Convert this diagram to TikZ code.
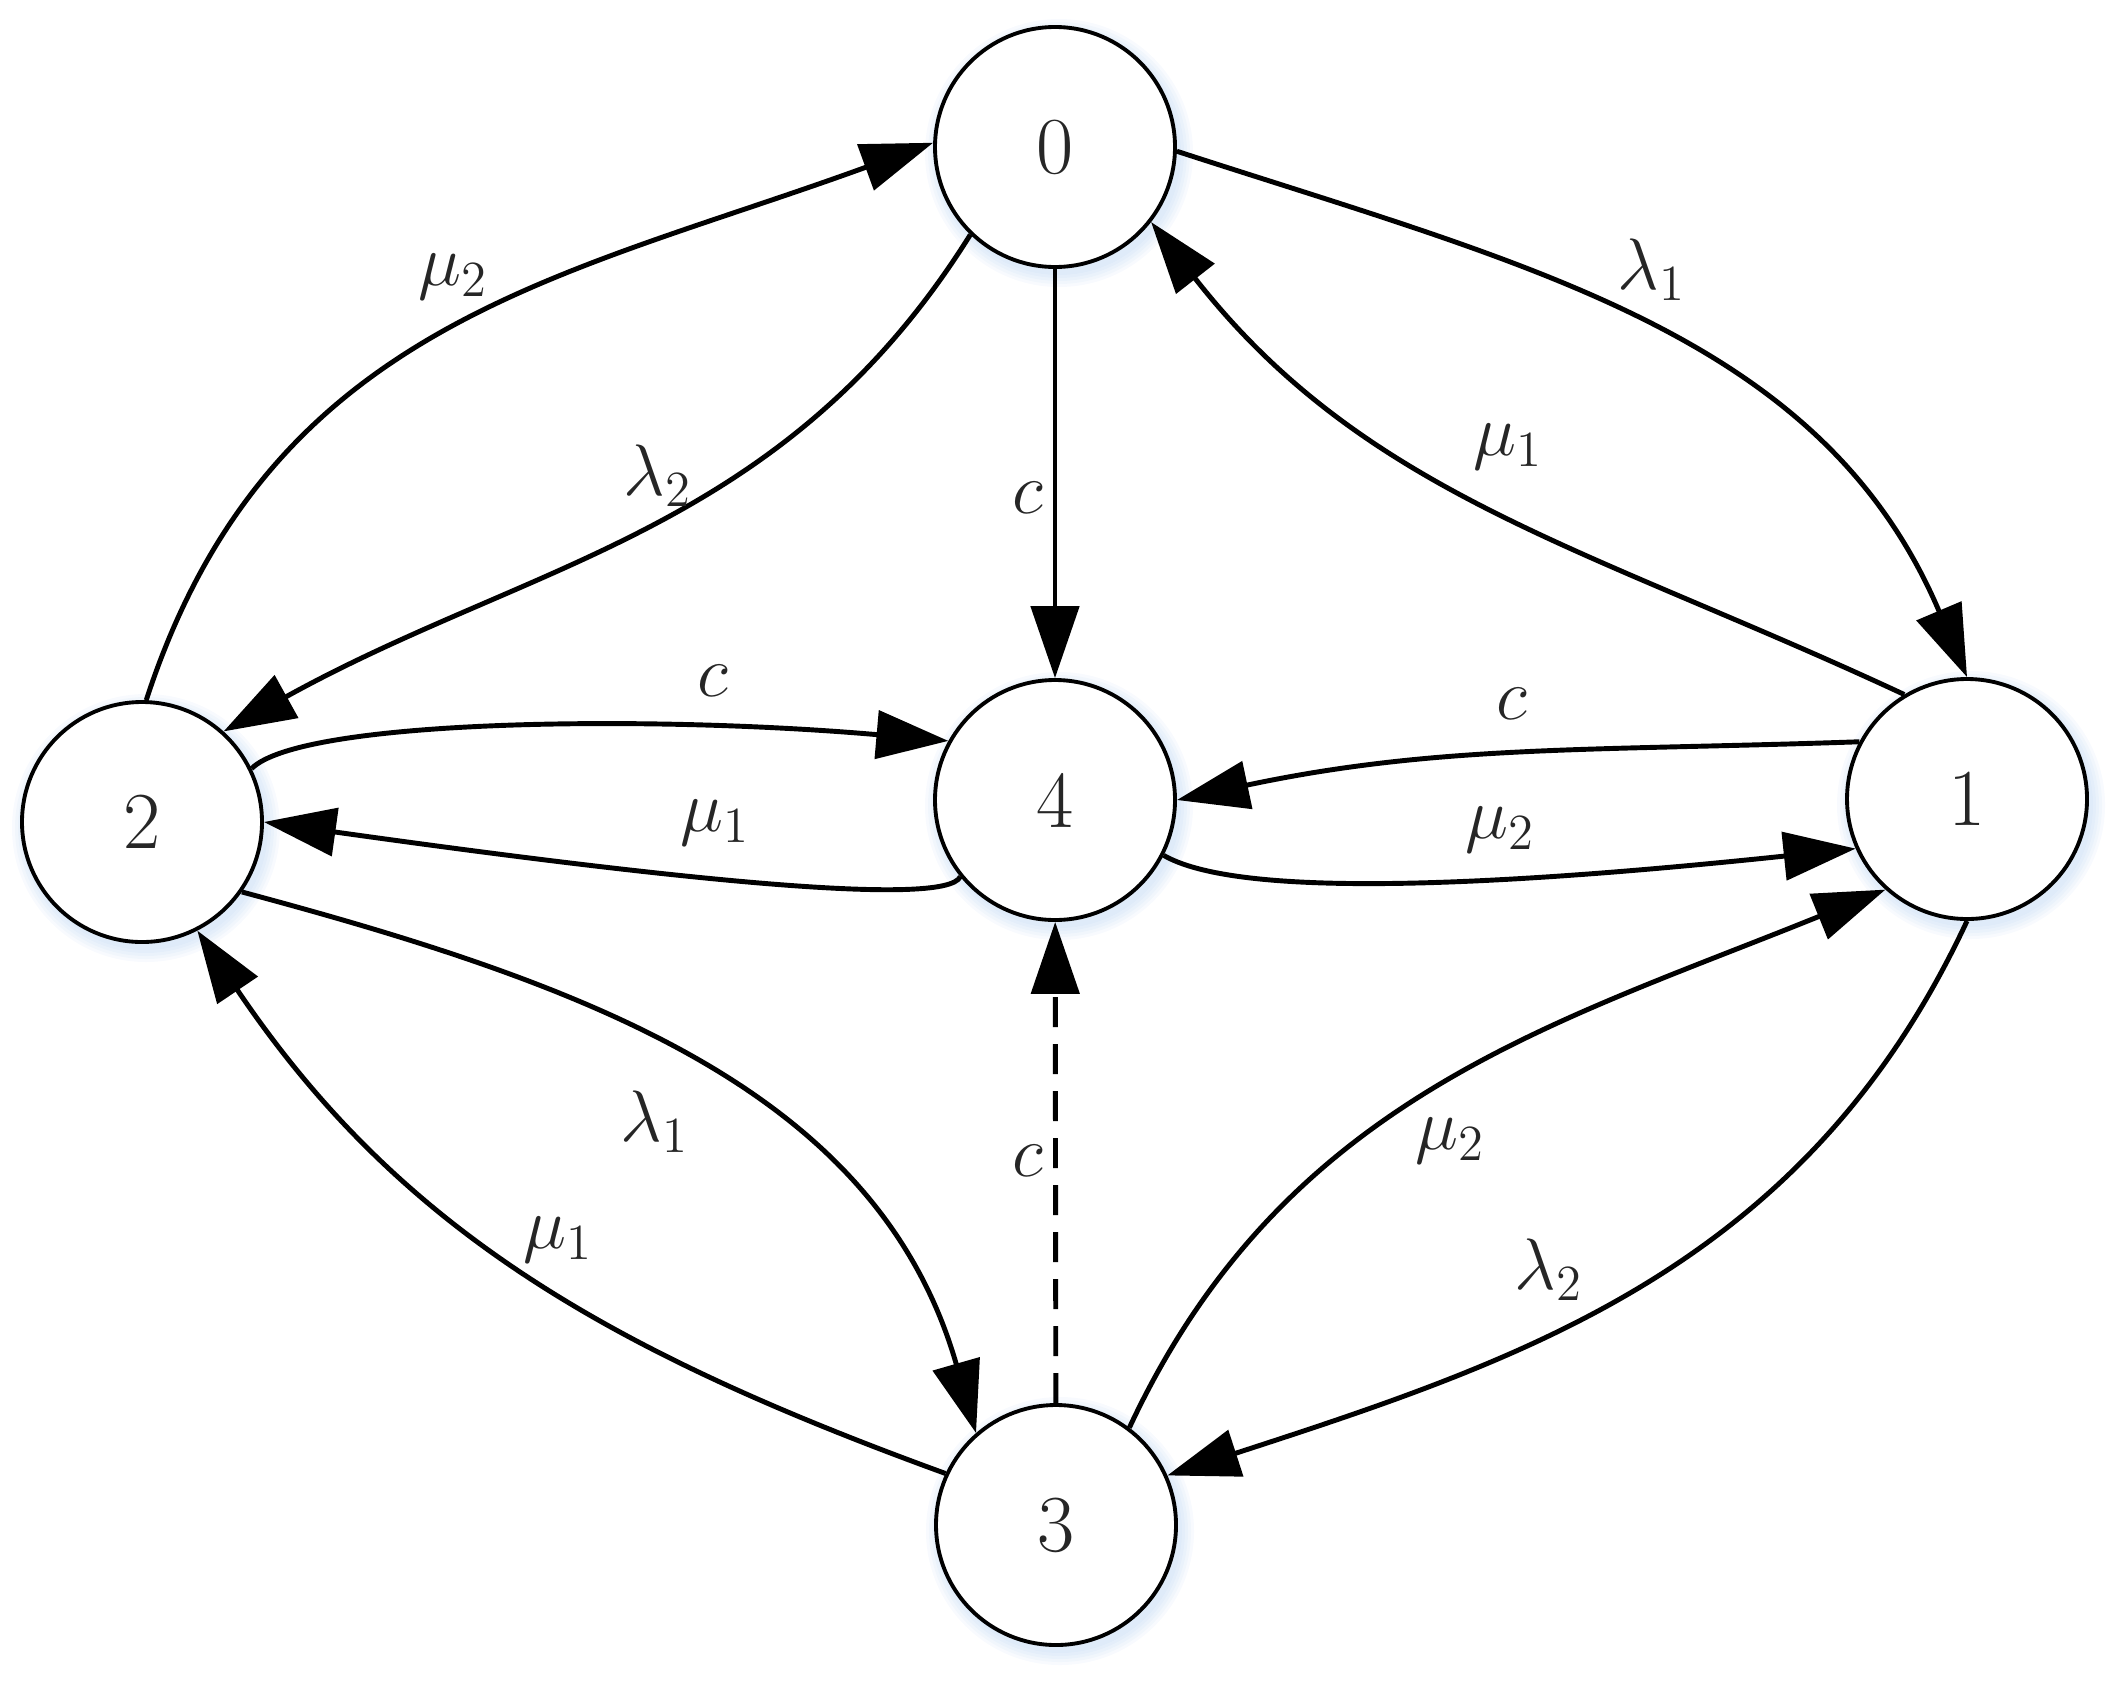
\documentclass[tikz,border=0pt]{standalone}
\usetikzlibrary{arrows.meta,backgrounds}
\definecolor{glow}{RGB}{150,190,235}
\begin{document}
\begin{tikzpicture}[
  st/.style={circle, draw, line width=1.1pt, minimum size=2.4cm, inner sep=0pt, fill=white,
             font=\fontsize{23}{28}\selectfont, text=black!85},
  e/.style={line width=1.4pt, -{Triangle[length=0.72cm,width=0.48cm]}},
  dsh/.style={dash pattern=on 0.3cm off 0.17cm},
  lbl/.style={inner sep=0pt, font=\fontsize{22}{26}\selectfont, text=black!85}
]
\useasboundingbox (0,0) rectangle (21.17,-16.8);

\node[st] (n0) at (10.55,-1.47) {0};
\node[st] (n1) at (19.67,-7.99) {1};
\node[st] (n2) at (1.42,-8.22) {2};
\node[st] (n3) at (10.56,-15.25) {3};
\node[st] (n4) at (10.55,-8.00) {4};

\begin{scope}[on background layer]
  \foreach \n in {n0,n1,n2,n3,n4}{
    \foreach \r in {1.22,1.25,1.28,1.31,1.34}{
      \fill[glow, opacity=0.07] ([xshift=0.04cm,yshift=-0.06cm]\n.center) circle (\r);
    }
  }
\end{scope}

% edges
\draw[e] (n2.88) to[out=72,in=200,looseness=1.05] (n0.178);
\draw[e] (n0.226) to[out=238,in=29] (n2.48);
\draw[e] (n0) -- (n4);
\draw[e] (n0.358) to[out=-18,in=113] (n1.90);
\draw[e] (n1.121) to[out=155,in=308] (n0.322);
\draw[e] (n2.26) .. controls +(45:0.7) and +(175:3) .. (n4.151);
\draw[e] (n4.219) .. controls +(245:0.35) and +(-8:4) .. (n2.0);
\draw[e] (n1.152) to[out=182,in=12] (n4.0);
\draw[e] (n4.333) .. controls +(-30:0.8) and +(186:4) .. (n1.204);
\draw[e] (n2.325) to[out=-15,in=106] (n3.131);
\draw[e] (n3.155) to[out=160,in=304] (n2.297);
\draw[e,dsh] (n3) -- (n4);
\draw[e] (n3.53) to[out=65,in=202] (n1.228);
\draw[e] (n1.270) to[out=245,in=18] (n3.24);

% labels
\node[lbl] (a1) at (4.53,-2.77) {$\mu_2$};
\node[lbl] (a2) at (6.58,-4.76) {$\lambda_2$};
\node[lbl] (a3) at (10.28,-4.98) {$c$};
\node[lbl] (a4) at (16.52,-2.70) {$\lambda_1$};
\node[lbl] (a5) at (15.08,-4.47) {$\mu_1$};
\node[lbl] (a6) at (7.13,-6.81) {$c$};
\node[lbl] (a7) at (7.15,-8.23) {$\mu_1$};
\node[lbl] (a8) at (15.12,-7.04) {$c$};
\node[lbl] (a9) at (15.00,-8.30) {$\mu_2$};
\node[lbl] (a10) at (6.55,-11.22) {$\lambda_1$};
\node[lbl] (a11) at (5.58,-12.40) {$\mu_1$};
\node[lbl] (a12) at (10.28,-11.61) {$c$};
\node[lbl] (a13) at (14.50,-11.41) {$\mu_2$};
\node[lbl] (a14) at (15.49,-12.70) {$\lambda_2$};
\end{tikzpicture}
\end{document}
